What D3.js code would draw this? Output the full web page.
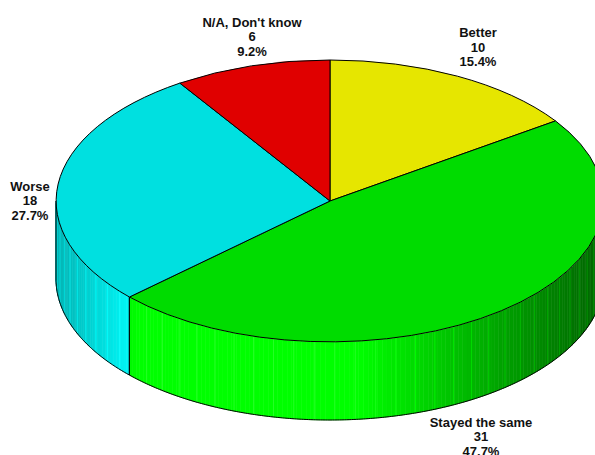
<!DOCTYPE html>
<html>
<head>
<meta charset="utf-8">
<script src="https://cdn.jsdelivr.net/npm/d3@7"></script>
<style>
  html, body { margin: 0; padding: 0; background: #fff; }
  svg { display: block; }
</style>
</head>
<body>
<svg id="chart" width="595" height="455"></svg>
<script>
// ---- data ----
const categories = ["Better", "Stayed the same", "Worse", "N/A, Don't know"];
const counts = [10, 31, 18, 6];
const percentLabels = ["15.4%", "47.7%", "27.7%", "9.2%"];

// ---- styles ----
const topColors = ["#e6e600", "#00dc00", "#00e0e0", "#e00000"];
const sideBase = [[255, 255, 0], [0, 255, 0], [0, 255, 255], [255, 0, 0]];

// ---- layout ----
const W = 595, H = 455;
const cx = 330, cy = 201, rx = 274, ry = 141, depth = 78;
const labelSpacing = 14.5;
// label anchor (centre x, first baseline y) per category
const labelAnchor = [[478, 37], [481, 426.7], [30, 190.7], [252, 26.5]];

const svg = d3.select("#chart");
const pie = d3.pie().sort(null).value(d => d);
const arcs = pie(counts);

const P = (a, dz) => [cx + rx * Math.sin(a), cy - ry * Math.cos(a) + dz];

function light(a) {
  const x = Math.sin(a);
  if (x < -0.7) return 0.7 + (x + 1) / 0.3 * 0.3;
  if (x < 0.1) return 1;
  return 1 - (x - 0.1) / 0.9 * 0.62;
}
function sideColor(i, a, extra) {
  const f = Math.min(1.15, light(a) + (extra || 0));
  const c = sideBase[i].map(v => Math.max(0, Math.min(255, Math.round(v * f + (f > 1 ? (f - 1) * 255 : 0)))));
  return `rgb(${c[0]},${c[1]},${c[2]})`;
}

const line = d3.line();
const gSide = svg.append("g");
const step = Math.PI / 180;
arcs.forEach((d, i) => {
  const s = Math.max(d.startAngle, Math.PI / 2);
  const e = Math.min(d.endAngle, 3 * Math.PI / 2);
  if (e <= s) return;
  for (let a = s; a < e - 1e-9; a += step) {
    const b = Math.min(a + step, e);
    const m = (a + b) / 2;
    const col = sideColor(i, m);
    gSide.append("path")
      .attr("d", line([P(a, 0), P(b, 0), P(b, depth), P(a, depth)]) + "Z")
      .attr("fill", col).attr("stroke", col).attr("stroke-width", 0.6);
  }
  // faint highlight lines
  for (let a = s + 3 * step; a < e - step; a += 4.3 * step) {
    const p0 = P(a, 0), p1 = P(a, depth);
    gSide.append("path")
      .attr("d", line([p0, p1]))
      .attr("stroke", sideColor(i, a, 0.14)).attr("stroke-width", 1).attr("fill", "none");
  }
});

// side outline: bottom arc, left edge, visible slice boundary edges
const bottomPts = d3.range(Math.PI / 2, 3 * Math.PI / 2 + 1e-9, Math.PI / 360).map(a => P(a, depth));
gSide.append("path").attr("d", line(bottomPts)).attr("fill", "none").attr("stroke", "#000").attr("stroke-width", 1);
[Math.PI / 2, 3 * Math.PI / 2].forEach(a => {
  gSide.append("path").attr("d", line([P(a, 0), P(a, depth)])).attr("stroke", "#000").attr("stroke-width", 1);
});
arcs.forEach(d => {
  const a = d.endAngle;
  if (a > Math.PI / 2 && a < 3 * Math.PI / 2) {
    gSide.append("path").attr("d", line([P(a, 0), P(a, depth)])).attr("stroke", "#000").attr("stroke-width", 1.2);
  }
});

// top faces
const arcGen = d3.arc().innerRadius(0).outerRadius(1);
const gTop = svg.append("g").attr("transform", `translate(${cx},${cy}) scale(${rx},${ry})`);
gTop.selectAll("path").data(arcs).join("path")
  .attr("d", arcGen)
  .attr("fill", (d, i) => topColors[i])
  .attr("stroke", "#000")
  .attr("stroke-width", 1)
  .attr("vector-effect", "non-scaling-stroke")
  .attr("stroke-linejoin", "round");

// labels
const gLab = svg.append("g")
  .attr("font-family", "'Liberation Sans', Arial, sans-serif")
  .attr("font-weight", "bold").attr("font-size", 13).attr("fill", "#111")
  .attr("text-anchor", "middle");
categories.forEach((c, i) => {
  const [x, y] = labelAnchor[i];
  const t = gLab.append("text").attr("x", x).attr("y", y);
  [c, String(counts[i]), percentLabels[i]].forEach((s, k) => {
    t.append("tspan").attr("x", x).attr("y", y + k * labelSpacing).text(s);
  });
});
</script>
</body>
</html>
